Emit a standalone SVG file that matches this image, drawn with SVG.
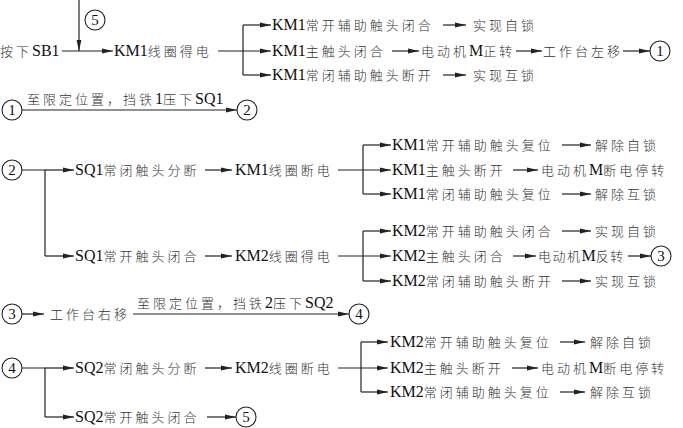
<svg xmlns="http://www.w3.org/2000/svg" width="683" height="428" viewBox="0 0 683 428">
<style>
text{font-family:"Liberation Serif","Noto Sans CJK SC",serif;font-size:16px;fill:#111}
.c{font-family:"Noto Sans CJK SC","Liberation Serif",sans-serif;font-size:13px;letter-spacing:3px;fill:#333;font-weight:300}
.t{letter-spacing:1.5px}
.ln{stroke:#222;stroke-width:1.2;fill:none}
.ar{stroke:#222;stroke-width:1.2;fill:none;marker-end:url(#ah)}
.cir{fill:#fff;stroke:#222;stroke-width:1.1}
.num{text-anchor:middle;font-size:15px}
</style>
<defs>
<marker id="ah" markerUnits="userSpaceOnUse" markerWidth="12" markerHeight="8" refX="11" refY="4" orient="auto">
<path d="M0,1.6 L11,4 L0,6.4 Z" fill="#222"/>
</marker>
</defs>
<g id="connectors">
<path class="ar" d="M62,51 H113"/>
<path class="ar" d="M79,0 V51"/>
<path class="ar" d="M218,51 H271"/>
<path class="ln" d="M243,25 V75"/>
<path class="ar" d="M243,25 H271"/>
<path class="ar" d="M243,75 H271"/>
<path class="ar" d="M443,25 H466"/>
<path class="ar" d="M392,51 H419"/>
<path class="ar" d="M516,51 H542"/>
<path class="ar" d="M623,51 H650"/>
<path class="ar" d="M443,75 H466"/>
<path class="ar" d="M22,110 H237"/>
<path class="ln" d="M22,170 H45 V256"/>
<path class="ar" d="M45,170 H74"/>
<path class="ar" d="M45,256 H74"/>
<path class="ar" d="M205,170 H232"/>
<path class="ar" d="M338,170 H391"/>
<path class="ln" d="M363,145 V194"/>
<path class="ar" d="M363,145 H391"/>
<path class="ar" d="M363,194 H391"/>
<path class="ar" d="M562,145 H591"/>
<path class="ar" d="M513,170 H538"/>
<path class="ar" d="M562,194 H591"/>
<path class="ar" d="M205,256 H232"/>
<path class="ar" d="M338,256 H391"/>
<path class="ln" d="M363,231 V281"/>
<path class="ar" d="M363,231 H391"/>
<path class="ar" d="M363,281 H391"/>
<path class="ar" d="M562,231 H591"/>
<path class="ar" d="M513,256 H536"/>
<path class="ar" d="M628,256 H651"/>
<path class="ar" d="M562,281 H591"/>
<path class="ar" d="M22,314 H44"/>
<path class="ar" d="M133,314 H349"/>
<path class="ln" d="M22,368 H45 V417"/>
<path class="ar" d="M45,368 H74"/>
<path class="ar" d="M45,417 H74"/>
<path class="ar" d="M205,368 H232"/>
<path class="ar" d="M338,368 H388"/>
<path class="ln" d="M361,342 V392"/>
<path class="ar" d="M361,342 H388"/>
<path class="ar" d="M361,392 H388"/>
<path class="ar" d="M560,342 H585"/>
<path class="ar" d="M512,368 H538"/>
<path class="ar" d="M560,392 H585"/>
<path class="ar" d="M207,417 H236"/>
</g>
<g id="n-sb1"><text x="0" y="56"><tspan class="c">按下</tspan>SB1</text></g>
<g id="n-c5top"><circle class="cir" cx="95" cy="20" r="10"/><text class="num" x="95" y="25">5</text></g>
<g id="n-km1on"><text x="114" y="56">KM1<tspan class="c">线圈得电</tspan></text></g>
<g id="n-km1-a"><text x="272" y="30">KM1<tspan class="c">常开辅助触头闭合</tspan></text></g>
<g id="n-self1"><text x="473" y="30"><tspan class="c">实现自锁</tspan></text></g>
<g id="n-km1-m"><text x="272" y="56">KM1<tspan class="c">主触头闭合</tspan></text></g>
<g id="n-motor-f"><text x="421" y="56"><tspan class="c">电动机</tspan>M<tspan class="c">正转</tspan></text></g>
<g id="n-left"><text x="543" y="56"><tspan class="c">工作台左移</tspan></text></g>
<g id="n-c1a"><circle class="cir" cx="660" cy="51" r="10"/><text class="num" x="660" y="56">1</text></g>
<g id="n-km1-b"><text x="272" y="80">KM1<tspan class="c">常闭辅助触头断开</tspan></text></g>
<g id="n-inter1"><text x="473" y="80"><tspan class="c">实现互锁</tspan></text></g>

<g id="n-c1b"><circle class="cir" cx="12" cy="110" r="10"/><text class="num" x="12" y="115">1</text></g>
<g id="n-lbl1"><text x="27" y="104"><tspan class="c">至限定位置，挡铁</tspan>1<tspan class="c">压下</tspan>SQ1</text></g>
<g id="n-c2a"><circle class="cir" cx="247" cy="110" r="10"/><text class="num" x="247" y="115">2</text></g>

<g id="n-c2b"><circle class="cir" cx="12" cy="170" r="10"/><text class="num" x="12" y="175">2</text></g>
<g id="n-sq1nc"><text x="75" y="175">SQ1<tspan class="c">常闭触头分断</tspan></text></g>
<g id="n-km1off"><text x="235" y="175">KM1<tspan class="c">线圈断电</tspan></text></g>
<g id="n-km1r-a"><text x="392" y="150">KM1<tspan class="c">常开辅助触头复位</tspan></text></g>
<g id="n-rel1"><text x="595" y="150"><tspan class="c">解除自锁</tspan></text></g>
<g id="n-km1r-m"><text x="392" y="175">KM1<tspan class="c">主触头断开</tspan></text></g>
<g id="n-stop1"><text x="541" y="175"><tspan class="c">电动机</tspan>M<tspan class="c">断电停转</tspan></text></g>
<g id="n-km1r-b"><text x="392" y="199">KM1<tspan class="c">常闭辅助触头复位</tspan></text></g>
<g id="n-relx1"><text x="595" y="199"><tspan class="c">解除互锁</tspan></text></g>

<g id="n-sq1no"><text x="75" y="261">SQ1<tspan class="c">常开触头闭合</tspan></text></g>
<g id="n-km2on"><text x="235" y="261">KM2<tspan class="c">线圈得电</tspan></text></g>
<g id="n-km2-a"><text x="392" y="236">KM2<tspan class="c">常开辅助触头闭合</tspan></text></g>
<g id="n-self2"><text x="595" y="236"><tspan class="c">实现自锁</tspan></text></g>
<g id="n-km2-m"><text x="392" y="261">KM2<tspan class="c">主触头闭合</tspan></text></g>
<g id="n-motor-r"><text x="538" y="261"><tspan class="c t">电动机</tspan>M<tspan class="c t">反转</tspan></text></g>
<g id="n-c3a"><circle class="cir" cx="661" cy="256" r="10"/><text class="num" x="661" y="261">3</text></g>
<g id="n-km2-b"><text x="392" y="286">KM2<tspan class="c">常闭辅助触头断开</tspan></text></g>
<g id="n-inter2"><text x="595" y="286"><tspan class="c">实现互锁</tspan></text></g>

<g id="n-c3b"><circle class="cir" cx="12" cy="314" r="10"/><text class="num" x="12" y="319">3</text></g>
<g id="n-right"><text x="50" y="319"><tspan class="c">工作台右移</tspan></text></g>
<g id="n-lbl2"><text x="137" y="308"><tspan class="c">至限定位置，挡铁</tspan>2<tspan class="c">压下</tspan>SQ2</text></g>
<g id="n-c4a"><circle class="cir" cx="359" cy="314" r="10"/><text class="num" x="359" y="319">4</text></g>

<g id="n-c4b"><circle class="cir" cx="12" cy="368" r="10"/><text class="num" x="12" y="373">4</text></g>
<g id="n-sq2nc"><text x="75" y="373">SQ2<tspan class="c">常闭触头分断</tspan></text></g>
<g id="n-km2off"><text x="235" y="373">KM2<tspan class="c">线圈断电</tspan></text></g>
<g id="n-km2r-a"><text x="390" y="347">KM2<tspan class="c">常开辅助触头复位</tspan></text></g>
<g id="n-rel2"><text x="590" y="347"><tspan class="c">解除自锁</tspan></text></g>
<g id="n-km2r-m"><text x="390" y="373">KM2<tspan class="c">主触头断开</tspan></text></g>
<g id="n-stop2"><text x="541" y="373"><tspan class="c">电动机</tspan>M<tspan class="c">断电停转</tspan></text></g>
<g id="n-km2r-b"><text x="390" y="397">KM2<tspan class="c">常闭辅助触头复位</tspan></text></g>
<g id="n-relx2"><text x="590" y="397"><tspan class="c">解除互锁</tspan></text></g>
<g id="n-sq2no"><text x="75" y="422">SQ2<tspan class="c">常开触头闭合</tspan></text></g>
<g id="n-c5b"><circle class="cir" cx="246" cy="417" r="10"/><text class="num" x="246" y="422">5</text></g>
</svg>
